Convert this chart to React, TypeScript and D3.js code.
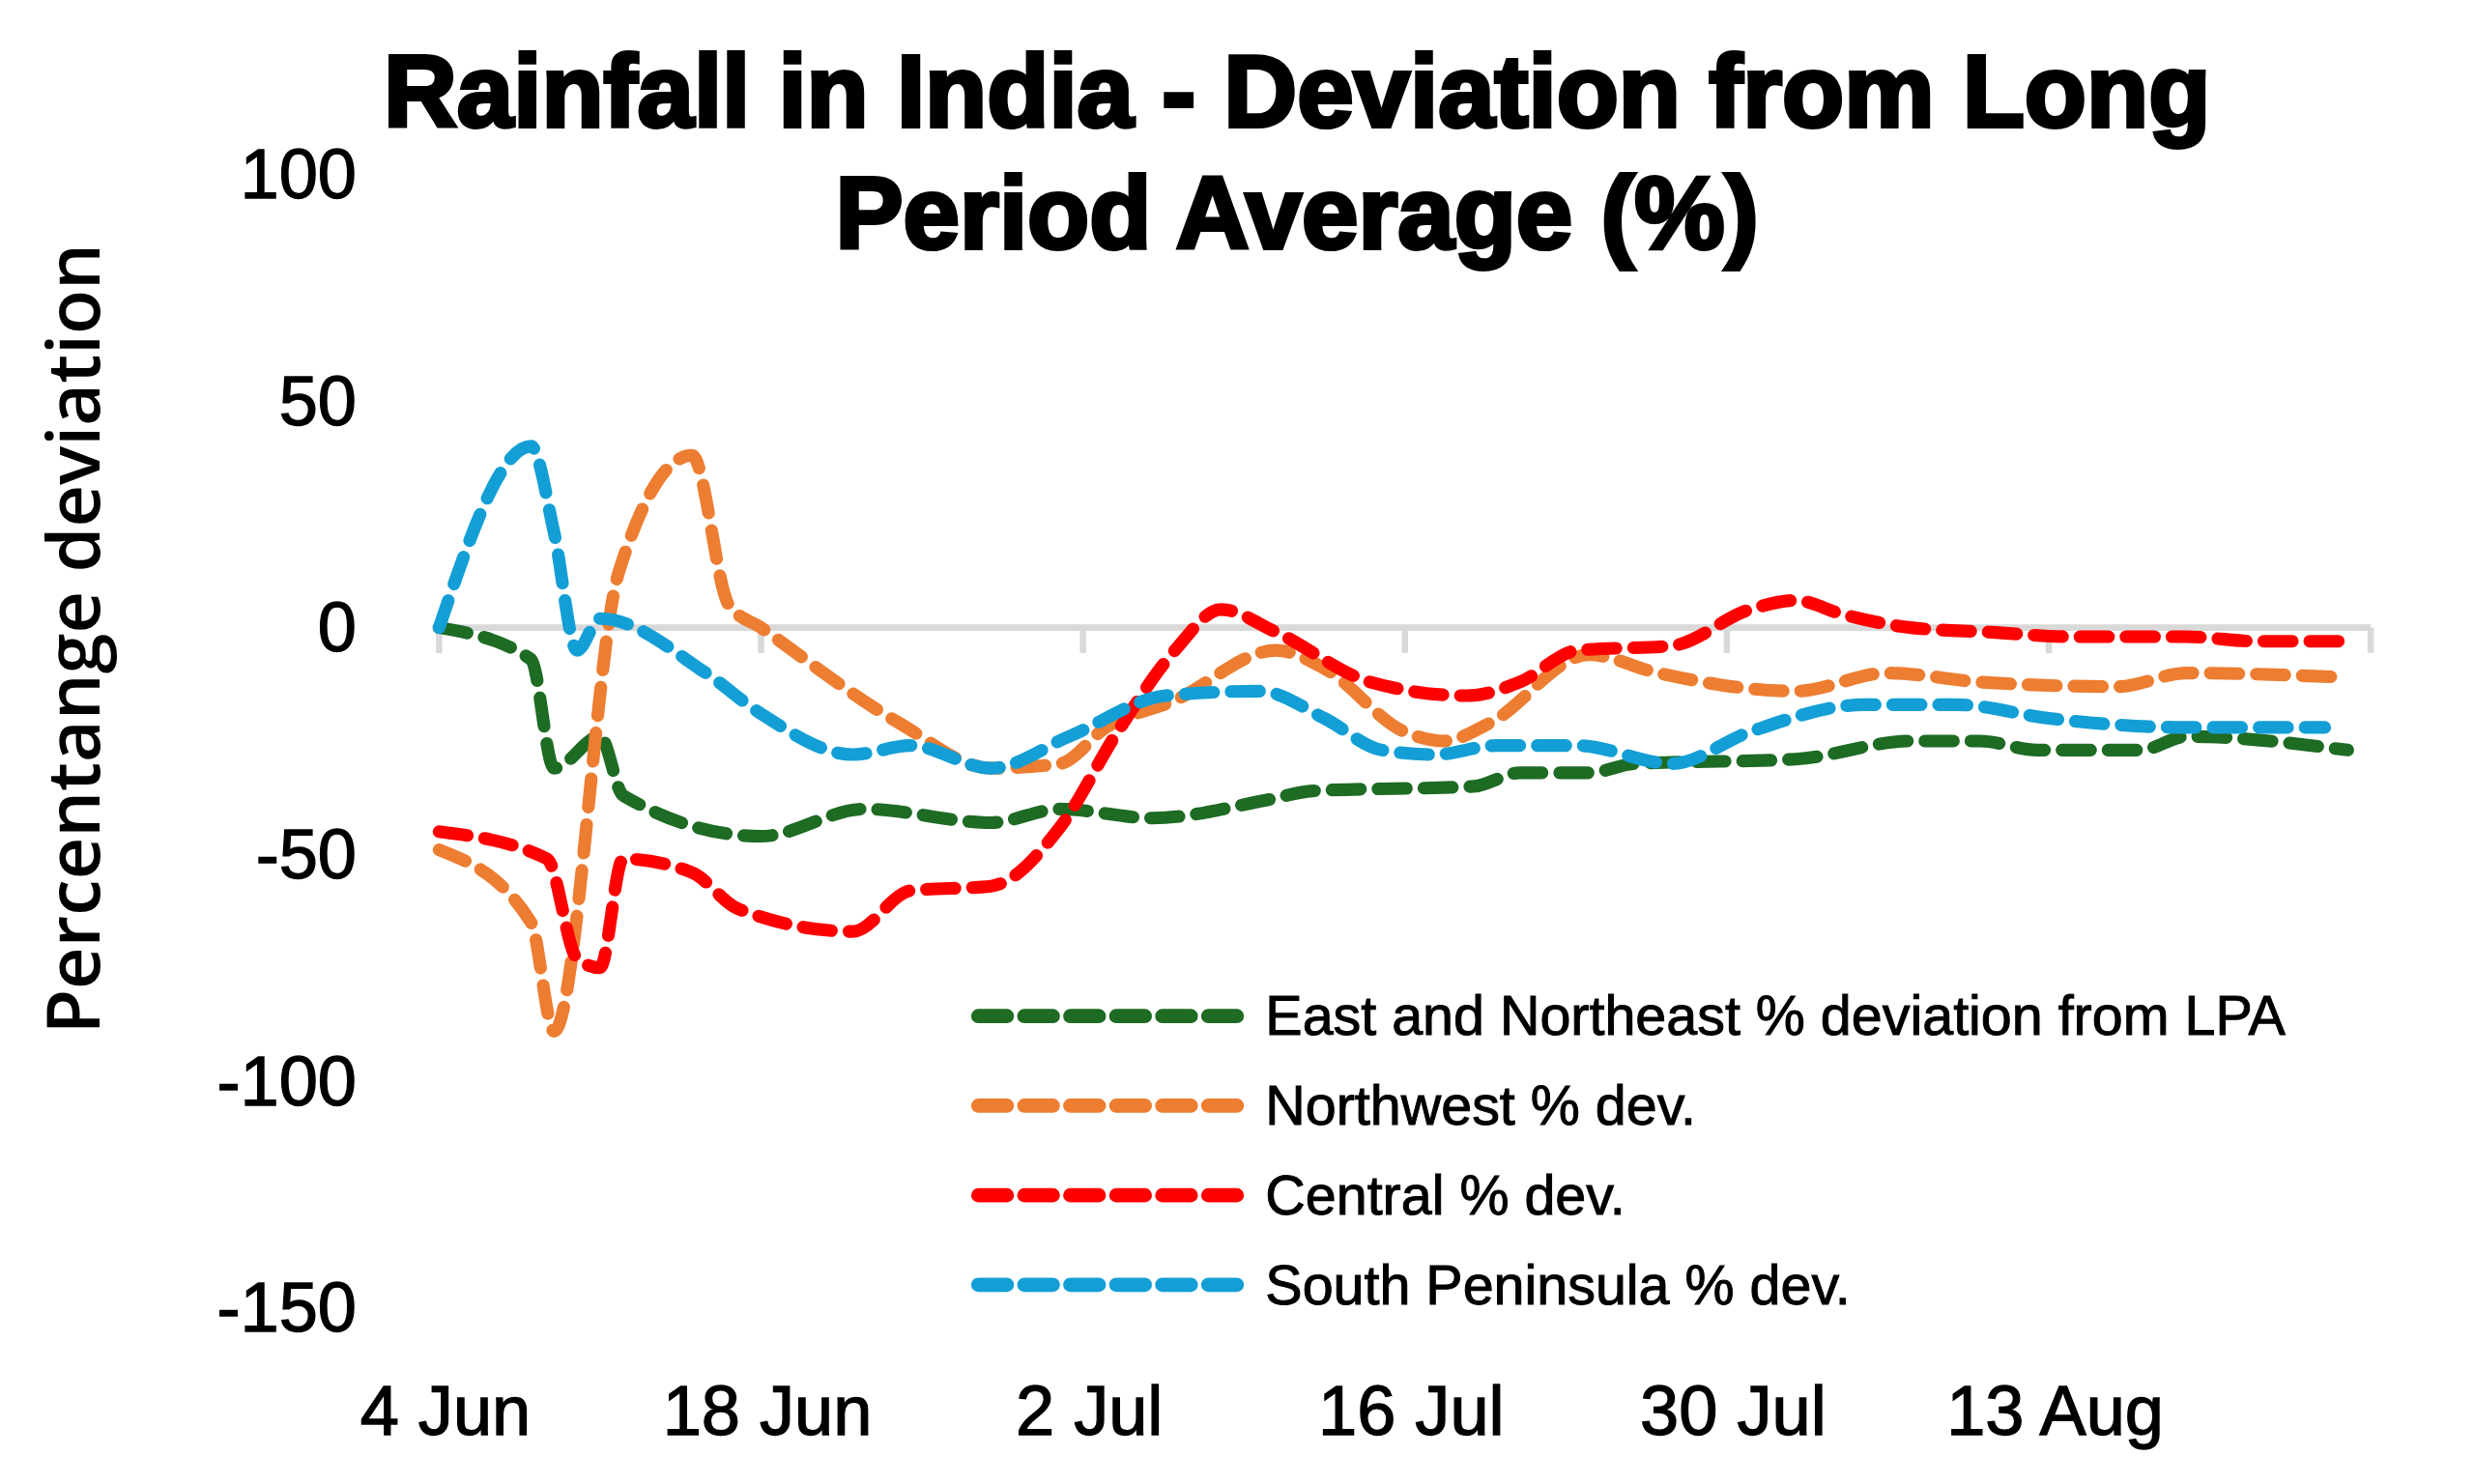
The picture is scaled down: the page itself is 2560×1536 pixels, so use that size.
import React from "react";
import * as d3 from "d3";

const tickDays = [0, 14, 28, 42, 56, 70, 84];
const tickLabels = ["4 Jun", "18 Jun", "2 Jul", "16 Jul", "30 Jul", "13 Aug", ""];
const yTicks = [100, 50, 0, -50, -100, -150];

const eastDays = [0, 4, 5, 7, 8, 14, 18.5, 24, 27, 31, 36, 38, 45, 47, 50, 52, 59, 64, 67, 69.5, 74, 76, 83];
const eastVals = [0, -7, -31, -24, -37, -46, -40, -43, -40, -42, -38, -36, -35, -32, -32, -30, -29, -25, -25, -27, -27, -24, -27];
const nwDays = [0, 4, 5, 7.8, 11, 12.6, 14, 20, 24, 27, 29, 32, 36.4, 38.5, 42, 43.7, 45.7, 50, 53, 59, 63, 67, 73, 76, 83];
const nwVals = [-49, -65, -89, 12, 38, 5, 0, -21, -31, -30, -22, -16, -5, -9, -23, -25, -21, -6, -10, -14, -10, -12, -13, -10, -11];
const cenDays = [0, 4.7, 6, 7, 8, 11, 13, 18, 20.5, 24, 27, 29.5, 32, 34, 36.4, 40.5, 44.7, 47, 49.5, 53.6, 57, 59, 61, 64, 67.5, 71, 76, 79, 83];
const cenVals = [-45, -51, -73, -75, -51, -54, -62, -67, -58, -57, -44, -23, -5, 4, -1, -12, -15, -12, -5, -4, 4, 6, 3, 0, -1, -2, -2, -3, -3];
const spDays = [0, 4, 5, 6, 7, 11.6, 14, 18, 20.5, 24, 27.4, 31.6, 35.7, 38.5, 41, 43.3, 46, 49.5, 53.6, 57, 62, 66, 70, 76, 82];
const spVals = [0, 40, 21, -5, 2, -10, -19, -28, -26, -31, -24, -15, -14, -20, -27, -28, -26, -26, -30, -23, -17, -17, -20, -22, -22];

const series = [
  { name: "East and Northeast % deviation from LPA", color: "#1e6b24", days: eastDays, vals: eastVals },
  { name: "Northwest % dev.", color: "#ed7d31", days: nwDays, vals: nwVals },
  { name: "Central % dev.", color: "#ff0000", days: cenDays, vals: cenVals },
  { name: "South Peninsula % dev.", color: "#139fd6", days: spDays, vals: spVals },
];

const font = "'Liberation Sans', Arial, sans-serif";

export default function App() {
  const x = d3.scaleLinear().domain([0, 84]).range([272, 1490]);
  const y = d3.scaleLinear().domain([-150, 100]).range([820, 105]);
  const line = d3.line<[number, number]>().x((d) => x(d[0])).y((d) => y(d[1])).curve(d3.curveMonotoneX);
  return (
    <svg width={2560} height={1536} viewBox="0 0 1560 936" style={{ display: "block", background: "#fff" }}>
      <rect width={1560} height={936} fill="#fff" />
      <text x={813} y={75} textAnchor="middle" fontFamily={font} fontWeight="bold" fontSize={64} stroke="#000" strokeWidth={2.5}>
        Rainfall in India - Deviation from Long
      </text>
      <text x={813} y={152} textAnchor="middle" fontFamily={font} fontWeight="bold" fontSize={64} stroke="#000" strokeWidth={2.5}>
        Period Average (%)
      </text>
      <text transform="translate(58,398) rotate(-90)" textAnchor="middle" fontFamily="'Open Sans', 'DejaVu Sans', sans-serif" fontWeight={600} fontSize={46}>
        Percentange deviation
      </text>
      {yTicks.map((t) => (
        <text key={t} x={220} y={y(t) + 15} textAnchor="end" fontFamily={font} fontSize={44} stroke="#000" strokeWidth={0.8}>
          {t}
        </text>
      ))}
      <line x1={268} x2={1490} y1={y(0)} y2={y(0)} stroke="#d9d9d9" strokeWidth={4} />
      {tickDays.map((d) => (
        <line key={d} x1={x(d)} x2={x(d)} y1={y(0)} y2={y(0) + 16} stroke="#d9d9d9" strokeWidth={4} />
      ))}
      {tickDays.map((d, i) => (
        <text key={"l" + d} x={x(d) + 4} y={900} textAnchor="middle" fontFamily={font} fontSize={44} stroke="#000" strokeWidth={0.8}>
          {tickLabels[i]}
        </text>
      ))}
      {series.map((s) => {
        const pts = s.days.map((d, j) => [d, s.vals[j]] as [number, number]);
        return (
          <path key={s.name} d={line(pts) || ""} fill="none" stroke={s.color} strokeWidth={8} strokeDasharray="18 11" strokeLinecap="round" />
        );
      })}
      {series.map((s, i) => (
        <g key={"lg" + i}>
          <line x1={612} x2={775} y1={636 + i * 56.5} y2={636 + i * 56.5} stroke={s.color} strokeWidth={9} strokeDasharray="18 11" strokeLinecap="round" />
          <text x={793} y={648 + i * 56.5} fontFamily={font} fontSize={35} stroke="#000" strokeWidth={0.6}>
            {s.name}
          </text>
        </g>
      ))}
    </svg>
  );
}
